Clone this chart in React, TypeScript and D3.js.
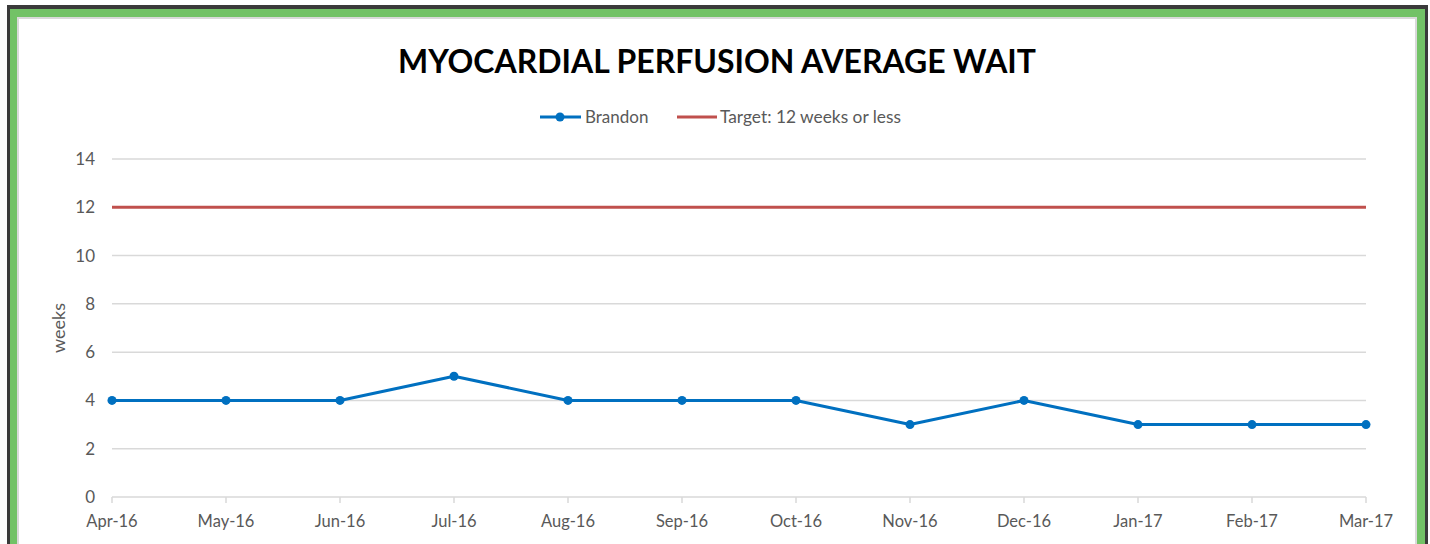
import React, { useEffect, useRef } from 'react';
import * as d3 from 'd3';

const months = ['Apr-16', 'May-16', 'Jun-16', 'Jul-16', 'Aug-16', 'Sep-16', 'Oct-16', 'Nov-16', 'Dec-16', 'Jan-17', 'Feb-17', 'Mar-17'];
const brandon = [4, 4, 4, 5, 4, 4, 4, 3, 4, 3, 3, 3];
const target = 12;
const yTicks = [0, 2, 4, 6, 8, 10, 12, 14];

const W = 1430;
const H = 544;
const FONT = 'Lato, "Open Sans", sans-serif';

const App = () => {
  const svgRef = useRef<SVGSVGElement>(null);

  useEffect(() => {
    const svg = d3.select(svgRef.current);
    svg.selectAll('*').remove();

    // frame: dark edge, green band, thin grey inner line
    svg.append('rect').attr('x', 7).attr('y', 5).attr('width', 1421).attr('height', 600).attr('fill', '#3a3a3a');
    svg.append('rect').attr('x', 10).attr('y', 9).attr('width', 1415).attr('height', 600).attr('fill', '#72c266');
    svg.append('rect').attr('x', 17).attr('y', 17).attr('width', 1400).attr('height', 600).attr('fill', '#d9d9d9');
    svg.append('rect').attr('x', 19).attr('y', 19).attr('width', 1396).attr('height', 600).attr('fill', '#ffffff');

    const x = d3.scalePoint<string>().domain(months).range([112, 1366]);
    const y = d3.scaleLinear().domain([0, 14]).range([497, 159]);

    // title
    svg.append('text')
      .attr('x', 717).attr('y', 73)
      .attr('text-anchor', 'middle')
      .attr('font-family', FONT)
      .attr('font-weight', 'bold')
      .attr('font-size', 33)
      .attr('fill', '#000')
      .attr('textLength', 638)
      .attr('lengthAdjust', 'spacingAndGlyphs')
      .text('MYOCARDIAL PERFUSION AVERAGE WAIT');

    // gridlines
    const grid = svg.append('g');
    grid.selectAll('line')
      .data(yTicks.filter(t => t !== 0))
      .join('line')
      .attr('x1', 112).attr('x2', 1366)
      .attr('y1', d => y(d)).attr('y2', d => y(d))
      .attr('stroke', '#d9d9d9').attr('stroke-width', 1.5);

    // y tick labels
    svg.append('g').selectAll('text')
      .data(yTicks)
      .join('text')
      .attr('x', 95).attr('y', d => y(d) + 6)
      .attr('text-anchor', 'end')
      .attr('font-family', FONT).attr('font-size', 17).attr('fill', '#595959')
      .text(d => d);

    // x axis
    const xAxis = svg.append('g').attr('transform', `translate(0,${y(0)})`);
    xAxis.append('line').attr('x1', 112).attr('x2', 1366).attr('stroke', '#d9d9d9').attr('stroke-width', 1.5);
    xAxis.selectAll('line.tick')
      .data(months)
      .join('line')
      .attr('class', 'tick')
      .attr('x1', d => x(d)!).attr('x2', d => x(d)!)
      .attr('y1', 0).attr('y2', 6)
      .attr('stroke', '#d9d9d9').attr('stroke-width', 1.5);
    xAxis.selectAll('text')
      .data(months)
      .join('text')
      .attr('x', d => x(d)!).attr('y', 30)
      .attr('text-anchor', 'middle')
      .attr('font-family', FONT).attr('font-size', 16.5).attr('fill', '#595959')
      .text(d => d);

    // axis title
    svg.append('text')
      .attr('transform', `translate(65,${(y(0) + y(14)) / 2}) rotate(-90)`)
      .attr('text-anchor', 'middle')
      .attr('font-family', FONT).attr('font-size', 18).attr('fill', '#595959')
      .text('weeks');

    // target line
    svg.append('line')
      .attr('x1', 112).attr('x2', 1366)
      .attr('y1', y(target)).attr('y2', y(target))
      .attr('stroke', '#c0504d').attr('stroke-width', 3);

    // Brandon series
    const line = d3.line<number>().x((_, i) => x(months[i])!).y(d => y(d));
    svg.append('path')
      .datum(brandon)
      .attr('d', line)
      .attr('fill', 'none')
      .attr('stroke', '#0070c0')
      .attr('stroke-width', 3)
      .attr('stroke-linejoin', 'round');
    svg.append('g').selectAll('circle')
      .data(brandon)
      .join('circle')
      .attr('cx', (_, i) => x(months[i])!)
      .attr('cy', d => y(d))
      .attr('r', 4.5)
      .attr('fill', '#0070c0');

    // legend
    const lg = svg.append('g').attr('transform', 'translate(0,117)');
    lg.append('line').attr('x1', 540).attr('x2', 581).attr('stroke', '#0070c0').attr('stroke-width', 3);
    lg.append('circle').attr('cx', 560).attr('cy', 0).attr('r', 4.5).attr('fill', '#0070c0');
    lg.append('text').attr('x', 585).attr('y', 6)
      .attr('font-family', FONT).attr('font-size', 17).attr('fill', '#595959').text('Brandon');
    lg.append('line').attr('x1', 677).attr('x2', 717).attr('stroke', '#c0504d').attr('stroke-width', 3);
    lg.append('text').attr('x', 720).attr('y', 6)
      .attr('font-family', FONT).attr('font-size', 17).attr('fill', '#595959')
      .attr('textLength', 181).attr('lengthAdjust', 'spacingAndGlyphs')
      .text('Target: 12 weeks or less');
  }, []);

  return (
    <svg ref={svgRef} width={W} height={H} style={{ position: 'absolute', left: 0, top: 0, display: 'block' }} />
  );
};

export default App;
